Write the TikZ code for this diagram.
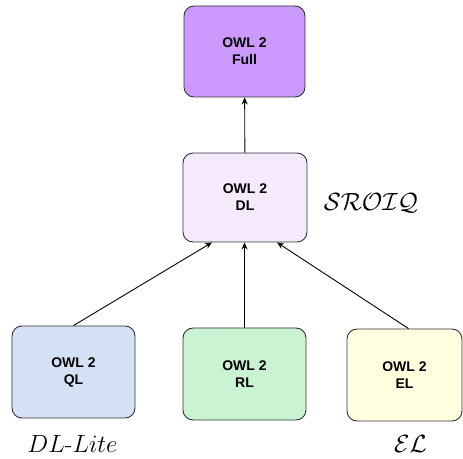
\documentclass[tikz,border=0pt]{standalone}
\usepackage{fontspec}
\usepackage{xcolor}
\usepackage{tikz}
\usetikzlibrary{arrows.meta, positioning}
\newfontfamily\owlfont{Liberation Sans}
\definecolor{fullfill}{HTML}{CC99FF}
\definecolor{dlfill}{HTML}{F5EAFC}
\definecolor{qlfill}{HTML}{D4E1F5}
\definecolor{rlfill}{HTML}{C9F3D3}
\definecolor{elfill}{HTML}{FFFFE0}
\tikzset{
    profile/.style={rectangle, rounded corners=10pt, draw=black!80, line width=0.9pt, align=center, minimum width=123pt, minimum height=92pt, font=\owlfont\bfseries\fontsize{14}{17}\selectfont},
    logic/.style={font=\fontsize{25}{28}\selectfont},
    arrow/.style={-{Stealth[length=7pt, width=6pt]}, line width=0.9pt}
}

\begin{document}
\begin{tikzpicture}[x=1pt, y=1pt]
    \useasboundingbox (0,0) rectangle (463,458);

    \node[profile, fill=fullfill, minimum width=121pt, minimum height=91pt] (full) at (244.5,406.5) {OWL 2\\Full};
    \node[profile, fill=dlfill, minimum width=124pt, minimum height=89pt] (dl) at (245,260.5) {OWL 2\\DL};
    \node[profile, fill=qlfill] (ql) at (73.5,86) {OWL 2\\QL};
    \node[profile, fill=rlfill] (rl) at (244.5,84) {OWL 2\\RL};
    \node[profile, fill=elfill, minimum width=115pt] (el) at (404.5,83) {OWL 2\\EL};

    % description logics
    \node[logic] (sroiq) at (371,255) {$\mathcal{SROIQ}$};
    \node[logic] (dllite) at (72.5,14) {$DL$-$Lite$};
    \node[logic] (ellogic) at (410.5,14) {$\mathcal{EL}$};

    \draw[arrow] (dl) -- (full);
    \draw[arrow] (ql.north) -- ([xshift=-33pt]dl.south);
    \draw[arrow] (rl.north) -- (rl.north |- dl.south);
    \draw[arrow] ([xshift=4pt]el.north) -- ([xshift=32pt]dl.south);
\end{tikzpicture}
\end{document}
